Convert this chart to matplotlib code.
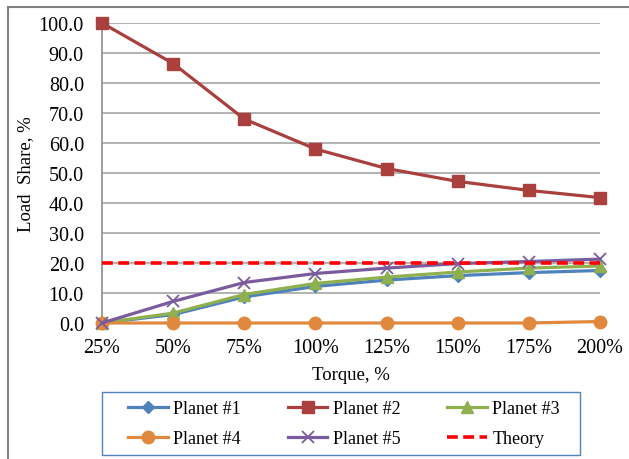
import numpy as np
import matplotlib
matplotlib.use("Agg")
import matplotlib.pyplot as plt
from matplotlib.patches import Rectangle

# ── Data ──────────────────────────────────────────────────────────────────────
torque = ["25%", "50%", "75%", "100%", "125%", "150%", "175%", "200%"]
planet1 = [0.0, 2.8, 8.7, 12.2, 14.3, 15.8, 16.8, 17.5]
planet2 = [100.0, 86.5, 68.0, 58.0, 51.5, 47.2, 44.2, 41.8]
planet3 = [0.0, 3.3, 9.5, 13.2, 15.3, 17.0, 18.3, 19.0]
planet4 = [0.0, 0.0, 0.0, 0.0, 0.0, 0.0, 0.0, 0.5]
planet5 = [0.0, 7.2, 13.5, 16.5, 18.3, 19.8, 20.5, 21.3]
theory = [20.0] * 8

plt.rcParams['font.family'] = ['Liberation Serif', 'DejaVu Serif']

W, H = 629, 460
fig = plt.figure(figsize=(W / 100, H / 100), dpi=100)
# plot area in pixels: x 102..600, y 24..324 (from top)
ax = fig.add_axes([102 / W, 1 - 324 / H, 498 / W, 300 / H])

x = np.arange(len(torque))
lw = 2.3
h1, = ax.plot(x, planet1, color='#4F81BD', lw=lw, marker='D', ms=6.5, label='Planet #1', zorder=3)
h2, = ax.plot(x, planet2, color='#A9403D', lw=lw, marker='s', ms=9, label='Planet #2', zorder=3)
h3, = ax.plot(x, planet3, color='#8FB04F', lw=lw, marker='^', ms=8.5, label='Planet #3', zorder=3)
h4, = ax.plot(x, planet4, color='#E0893E', lw=lw, marker='o', ms=9, label='Planet #4', zorder=3)
h5, = ax.plot(x, planet5, color='#7A5C9E', lw=lw, marker='x', ms=9, mew=1.3,
              label='Planet #5', zorder=4)
h6, = ax.plot(x, theory, color='#FF0000', lw=2.6, ls=(0, (3, 1.5)), label='Theory', zorder=5)

ax.set_xlim(0, len(torque) - 1)
ax.set_ylim(0, 100)
ax.set_yticks(np.arange(0, 101, 10))
ax.set_yticklabels([f"{v:.1f}" for v in np.arange(0, 101, 10)], fontsize=14.5)
ax.set_xticks(x)
ax.set_xticklabels(torque, fontsize=14.5)
ax.tick_params(axis='y', length=0, pad=13)
ax.tick_params(axis='x', length=0, pad=11)
ax.grid(axis='y', color='#A6A6A6', lw=1.2)
ax.set_axisbelow(True)
for s in ['top', 'right', 'bottom']:
    ax.spines[s].set_visible(False)
ax.spines['left'].set_color('#8C8C8C')
ax.spines['left'].set_linewidth(1.2)
for line in ax.lines:
    line.set_clip_on(False)

ax.set_xlabel('Torque, %', fontsize=13.5, labelpad=6)
ax.set_ylabel('Load  Share, %', fontsize=13.5, labelpad=3)

# legend filled row by row like the original; frame drawn separately
handles = [h1, h4, h2, h5, h3, h6]
leg = fig.legend(handles, [h.get_label() for h in handles],
                 loc='center', bbox_to_anchor=(128 / W, 1 - 456 / H, 432 / W, 63 / H),
                 ncol=3, mode='expand', fontsize=13, frameon=False,
                 handlelength=2.2, borderaxespad=0, borderpad=0, columnspacing=1.0,
                 handletextpad=0.3, labelspacing=0.72)
fig.patches.append(Rectangle((102 / W, 1 - 456 / H), 478 / W, 63 / H,
                             transform=fig.transFigure, fill=False,
                             edgecolor='#4F81BD', lw=1.0))

# outer chart border
fig.patches.append(Rectangle((8 / W, -0.1), 1.1, 1 - 8 / H + 0.1,
                             transform=fig.transFigure, fill=False,
                             edgecolor='#808080', lw=1.5))

fig.savefig('out.png', dpi=100)
